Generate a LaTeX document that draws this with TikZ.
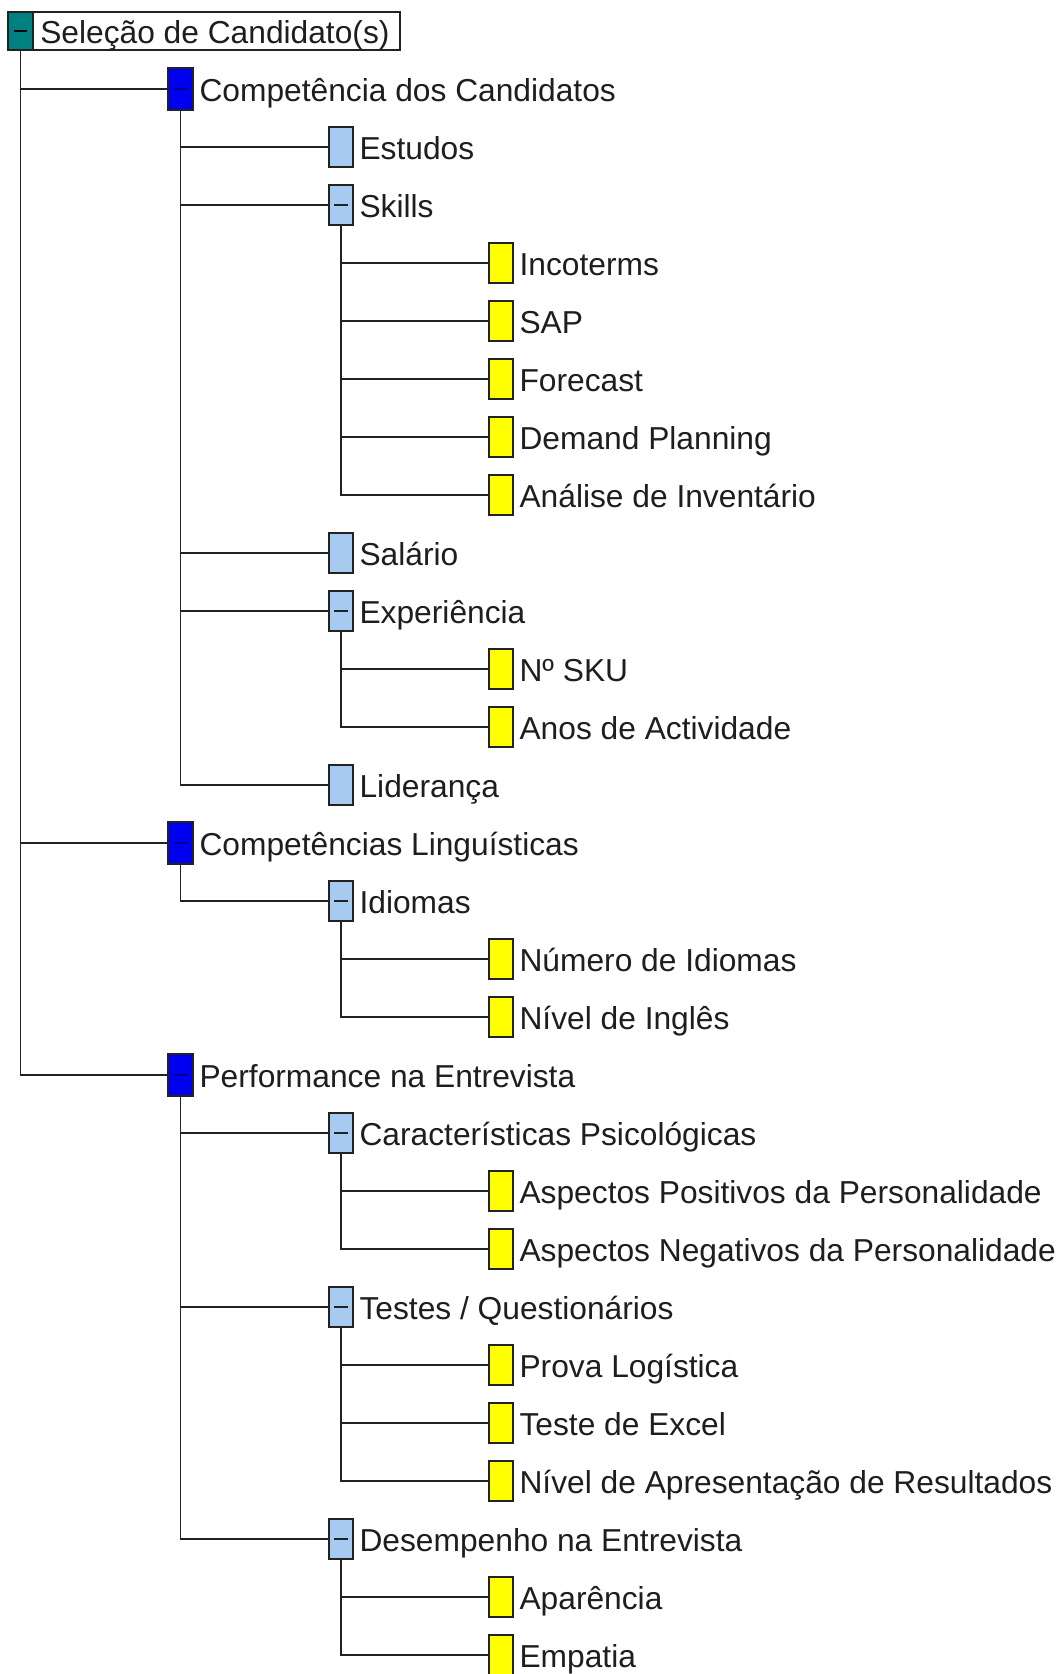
\documentclass[tikz,border=0pt]{standalone}
\usepackage{fontspec}
\setmainfont{Liberation Sans}
\usetikzlibrary{calc}
\definecolor{rootteal}{HTML}{008080}
\definecolor{grpblue}{HTML}{0000F0}
\definecolor{subblue}{HTML}{A6CAF0}
\definecolor{leafyel}{HTML}{FFFF00}
\definecolor{ink}{HTML}{1E1E1E}
\definecolor{edge}{HTML}{222222}
\begin{document}
\begin{tikzpicture}[x=0.75pt,y=-0.75pt,
  box/.style={draw=edge,line width=1.2pt,inner sep=0pt,minimum width=18pt,minimum height=30pt},
  grp/.style={box,fill=grpblue,minimum width=18.75pt,minimum height=31.5pt},
  sub/.style={box,fill=subblue},
  leaf/.style={box,fill=leafyel},
  fold/.style={path picture={\draw[#1,line width=1.1pt]
      ([xshift=-5pt]path picture bounding box.center) --
      ([xshift=5pt]path picture bounding box.center);}},
  fold/.default=edge,
  lbl/.style={anchor=base west,inner sep=0pt,text=ink,font=\fontsize{23.8}{28}\selectfont},
  conn/.style={draw=edge,line width=1.45pt}]
\useasboundingbox[fill=white] (0,0) rectangle (1063,1674);

% root
\node[box,fill=rootteal,minimum width=18.75pt,minimum height=28.5pt,fold=black] (root) at (20.5,31) {};
\node[box,minimum width=275.25pt,minimum height=28.5pt] (roottag) at (216.5,31) {};
\node[lbl] (roott) at (40,43) {Seleção de Candidato(s)};

% level 1
\node[grp,fold=grpblue!55!black] (c1) at (180.5,89) {};
\node[grp,fold=grpblue!55!black] (c2) at (180.5,843) {};
\node[grp,fold=grpblue!55!black] (c3) at (180.5,1075) {};
\node[lbl] at ($(c1.east)+(5.5,12)$) {Competência dos Candidatos};
\node[lbl] at ($(c2.east)+(5.5,12)$) {Competências Linguísticas};
\node[lbl] at ($(c3.east)+(5.5,12)$) {Performance na Entrevista};

% level 2
\node[sub] (estudos) at (341,147) {};
\node[sub,fold] (skills) at (341,205) {};
\node[sub] (salario) at (341,553) {};
\node[sub,fold] (exper) at (341,611) {};
\node[sub] (lider) at (341,785) {};
\node[sub,fold] (idiomas) at (341,901) {};
\node[sub,fold] (psico) at (341,1133) {};
\node[sub,fold] (testes) at (341,1307) {};
\node[sub,fold] (desemp) at (341,1539) {};
\node[lbl] at ($(estudos.east)+(5.5,12)$) {Estudos};
\node[lbl] at ($(skills.east)+(5.5,12)$) {Skills};
\node[lbl] at ($(salario.east)+(5.5,12)$) {Salário};
\node[lbl] at ($(exper.east)+(5.5,12)$) {Experiência};
\node[lbl] at ($(lider.east)+(5.5,12)$) {Liderança};
\node[lbl] at ($(idiomas.east)+(5.5,12)$) {Idiomas};
\node[lbl] at ($(psico.east)+(5.5,12)$) {Características Psicológicas};
\node[lbl] at ($(testes.east)+(5.5,12)$) {Testes / Questionários};
\node[lbl] at ($(desemp.east)+(5.5,12)$) {Desempenho na Entrevista};

% level 3
\node[leaf] (inco) at (501,263) {};
\node[leaf] (sap) at (501,321) {};
\node[leaf] (fore) at (501,379) {};
\node[leaf] (deman) at (501,437) {};
\node[leaf] (inven) at (501,495) {};
\node[leaf] (sku) at (501,669) {};
\node[leaf] (anos) at (501,727) {};
\node[leaf] (numid) at (501,959) {};
\node[leaf] (ingles) at (501,1017) {};
\node[leaf] (aspos) at (501,1191) {};
\node[leaf] (asneg) at (501,1249) {};
\node[leaf] (prova) at (501,1365) {};
\node[leaf] (excel) at (501,1423) {};
\node[leaf] (apres) at (501,1481) {};
\node[leaf] (apar) at (501,1597) {};
\node[leaf] (empat) at (501,1655) {};
\node[lbl] at ($(inco.east)+(5.5,12)$) {Incoterms};
\node[lbl] at ($(sap.east)+(5.5,12)$) {SAP};
\node[lbl] at ($(fore.east)+(5.5,12)$) {Forecast};
\node[lbl] at ($(deman.east)+(5.5,12)$) {Demand Planning};
\node[lbl] at ($(inven.east)+(5.5,12)$) {Análise de Inventário};
\node[lbl] at ($(sku.east)+(5.5,12)$) {Nº SKU};
\node[lbl] at ($(anos.east)+(5.5,12)$) {Anos de Actividade};
\node[lbl] at ($(numid.east)+(5.5,12)$) {Número de Idiomas};
\node[lbl] at ($(ingles.east)+(5.5,12)$) {Nível de Inglês};
\node[lbl] at ($(aspos.east)+(5.5,12)$) {Aspectos Positivos da Personalidade};
\node[lbl] at ($(asneg.east)+(5.5,12)$) {Aspectos Negativos da Personalidade};
\node[lbl] at ($(prova.east)+(5.5,12)$) {Prova Logística};
\node[lbl] at ($(excel.east)+(5.5,12)$) {Teste de Excel};
\node[lbl] at ($(apres.east)+(5.5,12)$) {Nível de Apresentação de Resultados};
\node[lbl] at ($(apar.east)+(5.5,12)$) {Aparência};
\node[lbl] at ($(empat.east)+(5.5,12)$) {Empatia};

% connectors
\foreach \c in {c1,c2,c3} \draw[conn] (root.south) |- (\c.west);
\foreach \c in {estudos,skills,salario,exper,lider} \draw[conn] (c1.south) |- (\c.west);
\draw[conn] (c2.south) |- (idiomas.west);
\foreach \c in {psico,testes,desemp} \draw[conn] (c3.south) |- (\c.west);
\foreach \c in {inco,sap,fore,deman,inven} \draw[conn] (skills.south) |- (\c.west);
\foreach \c in {sku,anos} \draw[conn] (exper.south) |- (\c.west);
\foreach \c in {numid,ingles} \draw[conn] (idiomas.south) |- (\c.west);
\foreach \c in {aspos,asneg} \draw[conn] (psico.south) |- (\c.west);
\foreach \c in {prova,excel,apres} \draw[conn] (testes.south) |- (\c.west);
\foreach \c in {apar,empat} \draw[conn] (desemp.south) |- (\c.west);
\end{tikzpicture}
\end{document}
